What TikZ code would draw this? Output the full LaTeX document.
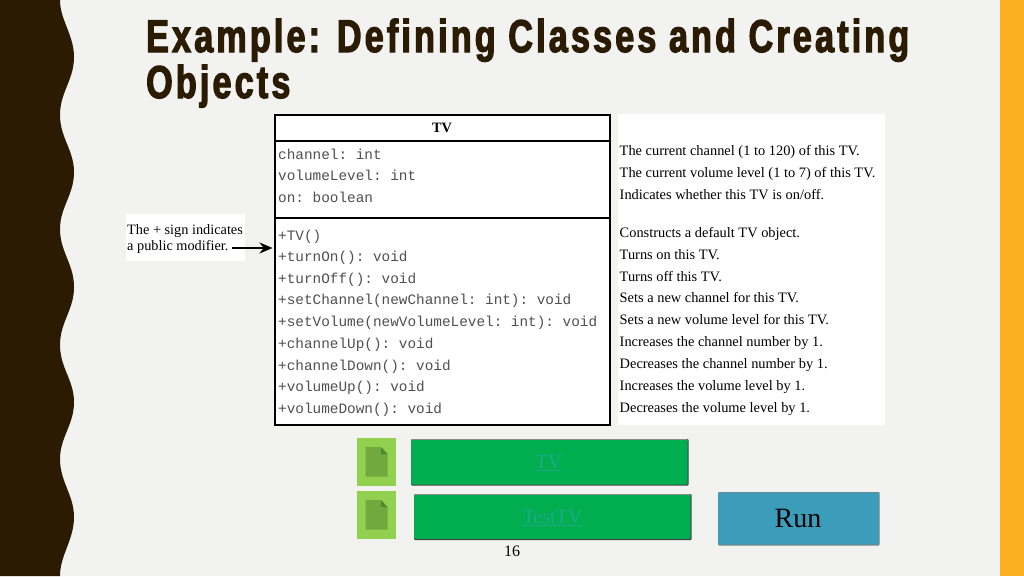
\documentclass[tikz,border=0pt]{standalone}
\usepackage{fontspec}
\usetikzlibrary{arrows.meta}
\setmainfont{Liberation Serif}
\setmonofont{Liberation Mono}
\newfontfamily\titlefont[FakeStretch=0.74,LetterSpace=7,FakeBold=2.6]{Liberation Sans Bold}
\definecolor{pagebg}{HTML}{F2F2F0}
\definecolor{darkbrown}{HTML}{2A1B02}
\definecolor{amber}{HTML}{FBB01F}
\definecolor{btngreen}{HTML}{00AE50}
\definecolor{linkteal}{HTML}{1FA88A}
\definecolor{runblue}{HTML}{3C9DBB}
\definecolor{iconbg}{HTML}{92D050}
\definecolor{icondoc}{HTML}{72A93F}
\definecolor{iconfold}{HTML}{4F8A2E}
\definecolor{monotext}{HTML}{505050}
\tikzset{
  title/.style={anchor=base west,inner sep=0pt,font=\titlefont\fontsize{46}{46}\selectfont,text=darkbrown},
  monoline/.style={anchor=base west,inner sep=0pt,font=\ttfamily\fontsize{14.37}{15}\selectfont,text=monotext},
  descline/.style={anchor=base west,inner sep=0pt,font=\fontsize{14.4}{15}\selectfont,text=black},
  noteline/.style={anchor=base west,inner sep=0pt,font=\fontsize{14.3}{15}\selectfont,text=black},
  panel/.style={fill=white,draw=none},
  umlbox/.style={draw=black,line width=1.3pt,fill=white},
  btn/.style={fill=btngreen,draw=none,rounded corners=1pt},
  iconsq/.style={fill=iconbg,draw=none},
}
\begin{document}
\begin{tikzpicture}[x=1pt,y=-1pt]
\useasboundingbox (0,0) rectangle (1024,576);
\fill[pagebg] (0,0) rectangle (1024,576);
\fill[amber] (1000,0) rectangle (1024,576);
% wavy band
\fill[darkbrown] (0,0) -- (60,0)
  .. controls (60,20) and (74,35) .. (74,57)
  .. controls (74,80) and (60,92) .. (60,115)
  .. controls (60,138) and (74,150) .. (74,172)
  .. controls (74,195) and (60,207) .. (60,229)
  .. controls (60,252) and (74,264) .. (74,287)
  .. controls (74,310) and (60,322) .. (60,345)
  .. controls (60,368) and (74,380) .. (74,402)
  .. controls (74,425) and (60,437) .. (60,459)
  .. controls (60,482) and (74,495) .. (74,517)
  .. controls (74,540) and (60,555) .. (60,576)
  -- (0,576) -- cycle;
% title
\node[title] (t1) at (146,52) {Example: Defining Classes and Creating};
\node[title] (t2) at (146,98) {Objects};
% panels
\fill[panel] (618,114) rectangle (885,425);
\fill[panel] (126,214) rectangle (245,261);
% UML class box
\draw[umlbox] (275,115) rectangle (610,425);
\draw[black,line width=1.3pt] (275,141) -- (610,141);
\draw[black,line width=1.3pt] (275,218) -- (610,218);
\node[anchor=base,inner sep=0pt,font=\bfseries\fontsize{14.3}{15}\selectfont] (name) at (442,132) {TV};
% attributes
\node[monoline] (a1) at (278,159) {channel: int};
\node[monoline] (a2) at (278,180) {volumeLevel: int};
\node[monoline] (a3) at (278,202) {on: boolean};
% methods
\node[monoline] (m1) at (278,240) {+TV()};
\node[monoline] (m2) at (278,261) {+turnOn(): void};
\node[monoline] (m3) at (278,283) {+turnOff(): void};
\node[monoline] (m4) at (278,304) {+setChannel(newChannel: int): void};
\node[monoline] (m5) at (278,326) {+setVolume(newVolumeLevel: int): void};
\node[monoline] (m6) at (278,348) {+channelUp(): void};
\node[monoline] (m7) at (278,370) {+channelDown(): void};
\node[monoline] (m8) at (278,391) {+volumeUp(): void};
\node[monoline] (m9) at (278,413) {+volumeDown(): void};
% descriptions
\node[descline] (d1) at (619.5,155) {The current channel (1 to 120) of this TV.};
\node[descline] (d2) at (619.5,177) {The current volume level (1 to 7) of this TV.};
\node[descline] (d3) at (619.5,199) {Indicates whether this TV is on/off.};
\node[descline] (d4) at (619.5,237) {Constructs a default TV object.};
\node[descline] (d5) at (619.5,259) {Turns on this TV.};
\node[descline] (d6) at (619.5,281) {Turns off this TV.};
\node[descline] (d7) at (619.5,302.5) {Sets a new channel for this TV.};
\node[descline] (d8) at (619.5,324.5) {Sets a new volume level for this TV.};
\node[descline] (d9) at (619.5,346.5) {Increases the channel number by 1.};
\node[descline] (d10) at (619.5,368.5) {Decreases the channel number by 1.};
\node[descline] (d11) at (619.5,390.5) {Increases the volume level by 1.};
\node[descline] (d12) at (619.5,412.5) {Decreases the volume level by 1.};
% note and arrow
\node[noteline] (n1) at (127,234) {The + sign indicates};
\node[noteline] (n2) at (127,250) {a public modifier.};
\coordinate (arrowstart) at (232,248);
\coordinate (arrowend) at (272.5,248);
\draw[-{Stealth[length=13pt,width=11pt]},line width=2pt,black] (arrowstart) -- (arrowend);
% icons
\foreach \y in {438,491}{
  \fill[iconsq] (357,\y) rectangle (396,\y+48);
  \fill[icondoc] (365.5,\y+9) -- (381,\y+9) -- (387.5,\y+16) -- (387.5,\y+38.5) -- (365.5,\y+38.5) -- cycle;
  \fill[iconfold] (381,\y+9) -- (387.5,\y+16) -- (381,\y+16) -- cycle;
}
% buttons
\fill[black!75,rounded corners=1pt] (411,439) rectangle (688.5,485.5);
\fill[black!45,rounded corners=1pt] (411,439) rectangle (687.5,442);
\fill[btn] (411,440) rectangle (687.5,484.5);
\fill[black!75,rounded corners=1pt] (414,494) rectangle (691.5,540);
\fill[black!45,rounded corners=1pt] (414,494) rectangle (690.5,497);
\fill[btn] (414,495) rectangle (690.5,538.8);
\node[anchor=base,inner sep=0pt,font=\fontsize{20}{22}\selectfont,text=linkteal] (b1) at (549,468.5) {\underline{TV}};
\node[anchor=base,inner sep=0pt,font=\fontsize{20}{22}\selectfont,text=linkteal] (b2) at (552.5,523.5) {\underline{TestTV}};
\fill[black!50,rounded corners=1pt] (718,492) rectangle (879.5,545.5);
\fill[runblue,rounded corners=1pt] (718,492.5) rectangle (879,544.5);
\node[anchor=base,inner sep=0pt,font=\fontsize{28}{29}\selectfont,text=black] (run) at (798,527.5) {Run};
\node[anchor=base,inner sep=0pt,font=\fontsize{16}{17}\selectfont,text=black] (page) at (512,556) {16};
\end{tikzpicture}
\end{document}
